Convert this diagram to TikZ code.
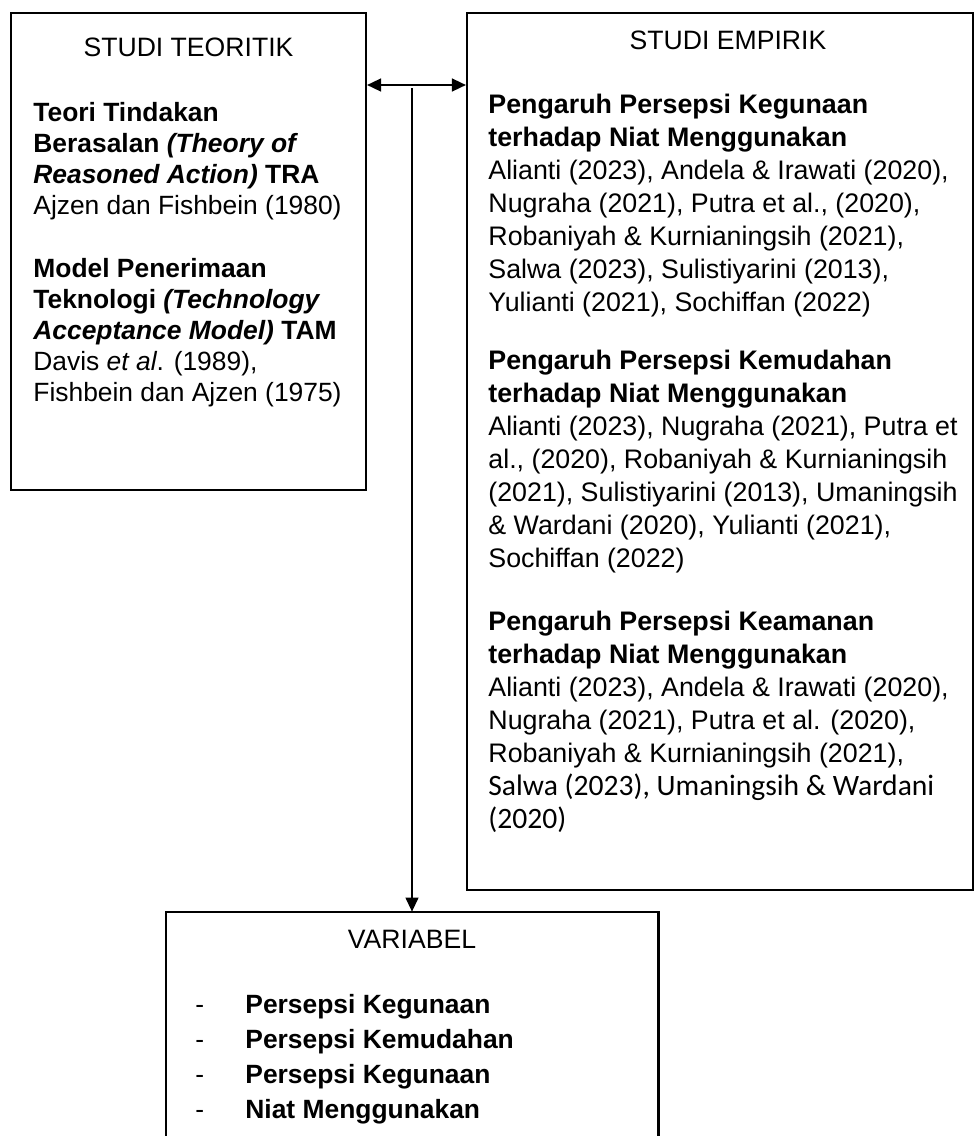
\documentclass[tikz,border=0pt]{standalone}
\usepackage{fontspec}
\setmainfont{Liberation Sans}
\newfontfamily\calfont{Carlito}
\usetikzlibrary{arrows.meta}
\tikzset{
  frame/.style={draw, line width=1.1pt, inner sep=0pt},
  head/.style={inner sep=0pt, font=\fontsize{13.3}{15}\selectfont},
  txt/.style={anchor=north west, align=left, inner sep=0pt, font=\fontsize{13.2}{15.5}\selectfont},
  reftxt/.style={txt, font=\fontsize{13.4}{16.5}\selectfont},
}
\newcommand\calib[1]{{\calfont\fontsize{14.8}{16.5}\selectfont #1}}
\begin{document}
\begin{tikzpicture}[x=0.5pt, y=-0.5pt, >={Triangle[length=7pt,width=6.5pt]}]
\useasboundingbox (0,0) rectangle (976,1136);
% boxes
\node[frame, minimum width=177.5pt, minimum height=238.5pt] (teori) at (188.5,251.5) {};
\node[frame, minimum width=253pt, minimum height=438.5pt] (empirik) at (720,451.5) {};
\node[inner sep=0pt, minimum width=246pt, minimum height=112pt] (var) at (412,1024) {};
\draw[line width=1.1pt] (var.south west) -- (var.north west) -- (var.north east) -- (var.south east);
% studi teoritik
\node[head] (tt) at (188.5,47) {STUDI TEORITIK};
\node[txt] (tra) at (33,102) {\textbf{Teori Tindakan}\\
  \textbf{Berasalan \textit{(Theory of}}\\
  \textbf{\textit{Reasoned Action)} TRA}\\
  Ajzen dan Fishbein (1980)};
\node[txt] (tam) at (33,258) {\textbf{Model Penerimaan}\\
  \textbf{Teknologi \textit{(Technology}}\\
  \textbf{\textit{Acceptance Model)} TAM}\\
  Davis \textit{et al}. (1989),\\
  Fishbein dan Ajzen (1975)};
% studi empirik
\node[head] (te) at (728,40) {STUDI EMPIRIK};
\node[reftxt] (guna) at (488,94) {\textbf{Pengaruh Persepsi Kegunaan}\\
  \textbf{terhadap Niat Menggunakan}\\
  Alianti (2023), Andela \& Irawati (2020),\\
  Nugraha (2021), Putra et al., (2020),\\
  Robaniyah \& Kurnianingsih (2021),\\
  Salwa (2023), Sulistiyarini (2013),\\
  Yulianti (2021), Sochiffan (2022)};
\node[reftxt] (mudah) at (488,350) {\textbf{Pengaruh Persepsi Kemudahan}\\
  \textbf{terhadap Niat Menggunakan}\\
  Alianti (2023), Nugraha (2021), Putra et\\
  al., (2020), Robaniyah \& Kurnianingsih\\
  (2021), Sulistiyarini (2013), Umaningsih\\
  \& Wardani (2020), Yulianti (2021),\\
  Sochiffan (2022)};
\node[reftxt] (aman) at (488,611) {\textbf{Pengaruh Persepsi Keamanan}\\
  \textbf{terhadap Niat Menggunakan}\\
  Alianti (2023), Andela \& Irawati (2020),\\
  Nugraha (2021), Putra et al. (2020),\\
  Robaniyah \& Kurnianingsih (2021),\\
  \calib{Salwa (2023), Umaningsih \& Wardani}\\
  \calib{(2020)}};
% variabel
\node[head] (tv) at (412,939) {VARIABEL};
\node[txt, font=\fontsize{13.2}{17.5}\selectfont] (items) at (195,994) {\makebox[25pt][l]{-}\textbf{Persepsi Kegunaan}\\
  \makebox[25pt][l]{-}\textbf{Persepsi Kemudahan}\\
  \makebox[25pt][l]{-}\textbf{Persepsi Kegunaan}\\
  \makebox[25pt][l]{-}\textbf{Niat Menggunakan}};
% arrows
\coordinate (j) at (412,85);
\draw[<->, line width=0.8pt] (teori.east |- j) -- (empirik.west |- j);
\draw[->, line width=0.6pt] ([yshift=-1.5pt]j) -- (var.north);
\end{tikzpicture}
\end{document}
